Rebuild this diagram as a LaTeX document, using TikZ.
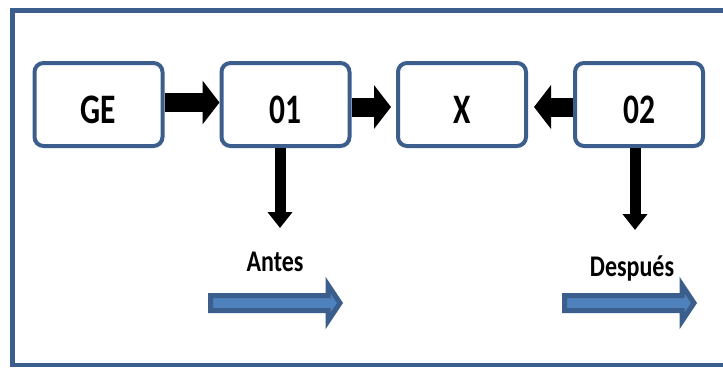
\documentclass[tikz,border=0pt]{standalone}
\usepackage{fontspec}
\usepackage{graphicx}
\setmainfont{Carlito}
\usetikzlibrary{arrows.meta}
\definecolor{frameblue}{RGB}{59,94,140}
\definecolor{fillblue}{RGB}{79,129,189}
\newcommand\sqz[1]{\scalebox{0.75}[1]{#1}}
\newcommand\sqy[1]{\scalebox{0.8}[1]{#1}}
\begin{document}
\begin{tikzpicture}[x=1pt,y=-1pt,
  box/.style={draw=frameblue, line width=4pt, rounded corners=9pt, fill=white,
    minimum width=128pt, minimum height=83pt, inner sep=0pt,
    font=\fontsize{42}{42}\selectfont\bfseries, text height=37pt, text depth=0pt},
  blockarrow/.style={draw=black, line width=19pt, -{Triangle[length=17pt,width=43pt]}},
  downarrow/.style={draw=black, line width=11pt, -{Triangle[length=16pt,width=24pt]}},
  lbl/.style={font=\fontsize{30}{30}\selectfont\bfseries, inner sep=0pt, anchor=base},
  bluearrow/.style={draw=frameblue, fill=fillblue, line width=5pt, line join=miter}
]
\useasboundingbox (0,0) rectangle (723,367);
\clip (0,0) rectangle (723,367);
\draw[frameblue, line width=4.5pt] (12.5,10.5) rectangle (740,365);

\node[box] (GE) at (98.5,104.5) {\sqz{GE}};
\node[box] (O1) at (285.5,104.5) {\sqz{01}};
\node[box] (X)  at (462,104.5) {\sqz{X}};
\node[box] (O2) at (639,104.5) {\sqz{02}};

\draw[blockarrow] ([yshift=2pt]GE.east) -- ([yshift=2pt]O1.west);
\draw[blockarrow, shorten >=5pt] ([yshift=-2.5pt]O1.east) -- ([yshift=-2.5pt]X.west);
\draw[blockarrow, shorten >=6pt] ([yshift=-2.5pt]O2.west) -- ([yshift=-2.5pt]X.east);

\coordinate (d1) at (280,228);
\coordinate (d2) at (635,230);
\draw[downarrow] (O1.south -| d1) -- (d1);
\draw[downarrow] (O2.south -| d2) -- (d2);

\node[lbl] (antes) at (275,271.5) {\sqy{Antes}};
\node[lbl] (despues) at (632,276.5) {\sqy{Después}};

\draw[bluearrow] (210.5,295.5) -- (328,295.5) -- (328,285) -- (340,303) -- (328,321) -- (328,310.5) -- (210.5,310.5) -- cycle;
\draw[bluearrow] (564.5,295.5) -- (682,295.5) -- (682,285) -- (694,303) -- (682,321) -- (682,310.5) -- (564.5,310.5) -- cycle;
\end{tikzpicture}
\end{document}
